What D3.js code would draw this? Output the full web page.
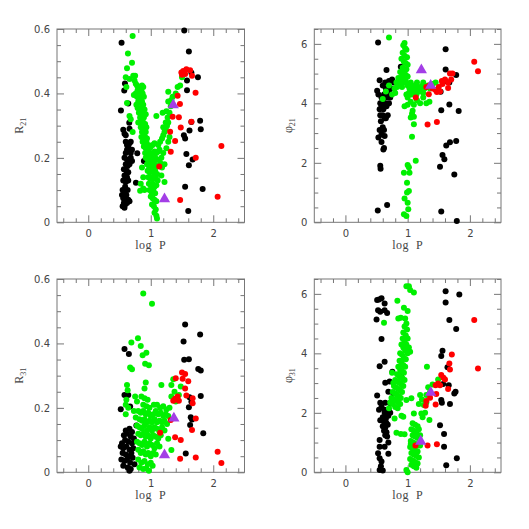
<!DOCTYPE html>
<html>
<head>
<meta charset="utf-8">
<script src="https://cdn.jsdelivr.net/npm/d3@7"></script>
<style>
  body { margin: 0; background: #fff; }
</style>
</head>
<body>
<div id="chart"></div>
<script>
// tick labels
var xTicks = [0, 1, 2];
var rTicks = [0, 0.2, 0.4, 0.6];
var phiTicks = [0, 2, 4, 6];

// the two triangle stars [logP, value]
var r21Tri = [[1.36, 0.364], [1.22, 0.072]];
var phi21Tri = [[1.22, 5.12], [1.37, 4.6]];
var r31Tri = [[1.37, 0.168], [1.22, 0.054]];
var phi31Tri = [[1.37, 2.68], [1.21, 1.04]];

// R21 panel
var r21Black = [[0.533,0.557],[0.587,0.431],[0.576,0.409],[0.64,0.369],[0.523,0.347],[0.656,0.309],[0.56,0.287],[0.58,0.275],[0.60,0.27],[0.66,0.29],
  [0.6,0.25],[0.62,0.24],[0.64,0.235],[0.66,0.245],[0.68,0.25],[0.62,0.225],[0.66,0.225],[0.6,0.215],[0.68,0.215],[0.7,0.225],
  [0.784,0.214],[0.89,0.19],
  [0.58,0.2],[0.62,0.195],[0.65,0.19],[0.68,0.2],[0.6,0.18],[0.63,0.175],[0.66,0.18],[0.7,0.19],[0.57,0.165],[0.61,0.16],[0.64,0.155],[0.58,0.145],[0.62,0.14],[0.56,0.13],[0.6,0.125],[0.64,0.13],[0.763,0.123],[0.59,0.11],[0.55,0.1],[0.63,0.1],[0.58,0.09],[0.61,0.085],[0.54,0.085],[0.56,0.075],[0.6,0.07],[0.64,0.07],[0.57,0.06],[0.62,0.06],[0.55,0.05],[0.59,0.055],[0.66,0.065],[0.58,0.045],
  [1.536,0.595],[1.61,0.53],[1.65,0.464],[1.755,0.45],[1.58,0.44],[1.58,0.41],[1.79,0.315],[1.65,0.311],[1.8,0.289],[1.53,0.27],[1.55,0.26],[1.57,0.212],[1.67,0.195],[1.61,0.177],[1.55,0.11],[1.83,0.103],[1.6,0.035],[1.62,0.285]];
var r21Green = [[0.71,0.578],[0.635,0.524],[0.70,0.495],[0.62,0.478],[0.6,0.45],[0.66,0.445],[0.61,0.42],[0.72,0.455],[0.75,0.455],[0.74,0.44],[0.76,0.43],
  [0.78,0.425],[0.80,0.42],[0.83,0.42],[0.86,0.425],[0.88,0.42],[0.79,0.41],[0.82,0.405],[0.85,0.41],[0.87,0.40],[0.76,0.40],[0.73,0.395],[0.78,0.39],[0.81,0.385],[0.84,0.39],[0.89,0.39],[0.80,0.375],[0.83,0.37],[0.86,0.375],[0.88,0.365],[0.77,0.365],[0.79,0.355],[0.82,0.35],[0.85,0.355],[0.90,0.35],[0.81,0.34],[0.84,0.335],[0.87,0.34],[0.92,0.335],[0.83,0.325],[0.86,0.32],[0.89,0.325],[0.80,0.31],[0.85,0.305],[0.88,0.31],[0.91,0.305],[0.84,0.295],[0.87,0.29],[0.90,0.29],[0.93,0.295],[0.86,0.28],[0.89,0.275],[0.92,0.28],[0.85,0.265],[0.88,0.26],[0.91,0.265],[0.94,0.26],[0.87,0.25],[0.90,0.245],[0.93,0.25],[0.96,0.24],[0.89,0.235],[0.92,0.23],[0.95,0.225],[0.98,0.23],[1.0,0.235],[1.03,0.24],[1.06,0.245],[0.91,0.215],[0.94,0.21],[0.97,0.215],[1.0,0.21],[1.03,0.215],[1.06,0.22],[1.09,0.215],[1.12,0.22],
  [0.62,0.37],[0.66,0.33],[0.68,0.32],[0.71,0.28],
  [0.92,0.20],[0.95,0.195],[0.98,0.19],[1.01,0.195],[1.04,0.19],[1.07,0.2],[1.1,0.195],[0.94,0.18],[0.97,0.175],[1.0,0.178],[1.03,0.172],[1.06,0.18],[1.09,0.175],[0.95,0.16],[0.98,0.155],[1.01,0.16],[1.04,0.155],[1.07,0.16],[1.1,0.15],[0.96,0.14],[0.99,0.135],[1.02,0.14],[1.05,0.135],[1.08,0.14],[1.11,0.13],[0.97,0.12],[1.0,0.115],[1.03,0.12],[1.06,0.11],[1.09,0.115],[0.98,0.10],[1.01,0.095],[1.04,0.1],[1.07,0.09],[1.0,0.08],[1.03,0.075],[1.06,0.07],[1.09,0.065],[1.02,0.055],[1.05,0.05],[1.08,0.04],[1.06,0.03],[1.09,0.02],[1.1,0.012],
  [0.83,0.098],[0.88,0.105],[0.84,0.12],[0.88,0.14],[0.86,0.17],[0.9,0.1],
  [1.12,0.24],[1.15,0.25],[1.18,0.26],[1.2,0.27],[1.22,0.28],[1.24,0.29],[1.26,0.3],[1.28,0.31],[1.2,0.295],[1.24,0.31],[1.27,0.325],[1.19,0.34],[1.09,0.33],[1.25,0.345],[1.3,0.34],[1.32,0.36],[1.28,0.375],[1.33,0.38],[1.28,0.405],[1.35,0.39],[1.4,0.4],[1.43,0.42],[1.47,0.425],[1.5,0.45],[1.14,0.225],[1.17,0.2],[1.2,0.215],[1.15,0.185],[1.18,0.17],[1.22,0.18],[1.25,0.23],[1.28,0.25],[1.3,0.265],[1.22,0.125],[1.17,0.145]];
var r21Red = [[1.49,0.465],[1.52,0.47],[1.57,0.475],[1.63,0.472],[1.66,0.455],[1.5,0.458],[1.55,0.46],
  [1.717,0.402],[1.43,0.393],[1.467,0.367],[1.35,0.328],[1.45,0.326],[1.65,0.312],[1.48,0.294],[1.31,0.281],[1.39,0.252],[1.32,0.219],[1.72,0.2],[1.136,0.173],[1.47,0.069],[2.07,0.079],[2.13,0.237]];

// phi21 panel
var phi21Black = [[0.525,6.05],[0.66,5.12],[0.89,5.23],[0.51,4.42],[0.55,4.78],
  [0.53,4.3],[0.56,4.0],[0.6,4.6],[0.65,4.5],[0.62,4.3],[0.67,4.2],[0.7,4.4],[0.74,4.5],[0.78,4.7],[0.58,3.9],[0.55,3.8],[0.6,3.6],[0.63,3.5],[0.57,3.4],[0.6,3.2],[0.55,3.1],[0.58,2.95],[0.53,2.85],[0.63,2.9],[0.62,3.1],[0.65,3.5],[0.68,3.6],[0.66,3.9],[0.7,4.0],[0.72,4.2],[0.64,4.7],[0.7,4.75],[0.75,4.8],[0.58,2.7],[0.61,2.45],[0.62,2.5],[0.56,1.9],[0.565,1.8],[0.52,0.4],[0.67,0.58],
  [0.6,4.1],[0.64,4.0],[0.68,4.3],[0.58,4.2],[0.56,3.6],[0.61,3.8],
  [1.61,5.82],[1.61,5.14],[1.53,4.39],[1.67,3.96],[1.54,3.77],[1.78,4.95],[1.82,3.74],[1.62,2.58],[1.68,2.69],[1.78,2.73],[1.56,2.26],[1.59,2.12],[1.52,1.87],[1.75,1.61],[1.54,0.36],[1.79,0.04],[1.6,4.75],[1.67,4.7]];
var phi21Green = [[0.70,6.21],[0.95,6.03],[0.93,5.95],[0.96,5.85],[0.98,5.8],[0.92,5.7],[0.95,5.6],[0.99,5.55],[0.9,5.5],[0.94,5.4],[0.97,5.35],[1.0,5.3],[0.92,5.2],[0.95,5.1],[0.98,5.15],[0.88,5.05],[0.91,4.95],[0.94,4.9],[0.97,4.95],[1.0,4.9],[0.85,4.85],[0.88,4.8],[0.91,4.75],[0.94,4.7],[0.97,4.75],[0.82,4.7],[0.85,4.65],[0.88,4.6],[0.91,4.55],[0.79,4.5],[0.83,4.55],
  [1.0,4.6],[1.03,4.5],[1.06,4.55],[1.09,4.45],[1.12,4.6],[1.15,4.5],[1.18,4.55],[1.21,4.45],[1.24,4.6],[1.27,4.5],[1.3,4.55],[1.33,4.6],[1.36,4.5],[1.4,4.65],[1.45,4.7],[1.02,4.35],[1.06,4.3],[1.1,4.35],[1.14,4.3],[1.18,4.4],[1.25,4.35],[1.05,4.7],[1.15,4.7],[1.25,4.7],
  [0.98,4.3],[1.0,4.2],[1.05,4.05],[1.1,3.95],[1.0,3.95],[0.95,3.9],[1.08,3.75],[1.07,3.65],[1.05,3.52],[1.1,3.55],[1.1,3.3],[1.07,2.88],[1.15,4.1],[1.2,4.0],[1.3,4.0],[1.35,4.05],[1.25,4.2],
  [0.6,4.15],[0.65,4.4],[0.75,4.3],[0.8,4.35],[0.7,4.6],
  [1.0,1.93],[1.02,1.85],[1.13,2.07],[0.94,1.67],[1.03,1.67],[0.99,1.33],[0.99,1.0],[1.02,1.05],[0.95,0.8],[1.0,0.66],[1.01,0.44],[0.94,0.27],[0.98,0.21]];
var phi21Red = [[2.07,5.4],[2.13,5.08],[1.3,4.55],[1.35,4.6],[1.4,4.5],[1.45,4.45],[1.5,4.55],[1.55,4.75],[1.6,4.8],[1.65,4.7],[1.7,4.8],[1.72,5.0],[1.68,5.0],[1.52,4.4],[1.47,4.38],[1.56,4.65],[1.65,4.52],
  [1.13,4.2],[1.34,4.31],[1.32,3.29],[1.47,3.37]];

// R31 panel
var r31Black = [[0.58,0.383],[0.65,0.367],[0.58,0.24],[0.64,0.24],[0.52,0.196],[0.67,0.204],[0.77,0.145],
  [0.6,0.13],[0.66,0.135],[0.7,0.125],[0.57,0.115],[0.62,0.12],[0.68,0.11],[0.73,0.105],[0.54,0.09],[0.59,0.1],[0.64,0.095],[0.7,0.09],[0.52,0.08],[0.56,0.075],[0.61,0.08],[0.66,0.07],[0.72,0.075],[0.55,0.06],[0.6,0.055],[0.64,0.05],[0.69,0.06],[0.53,0.04],[0.58,0.035],[0.62,0.04],[0.67,0.03],[0.74,0.025],[0.56,0.02],[0.63,0.015],[0.68,0.01],[0.66,0.005],[0.71,0.045],
  [1.55,0.459],[1.525,0.406],[1.535,0.349],[1.61,0.351],[1.76,0.321],[1.8,0.316],[1.79,0.428],[1.62,0.233],[1.8,0.237],[1.61,0.202],[1.65,0.219],[1.64,0.171],[1.66,0.164],[1.63,0.147],[1.84,0.121],[1.56,0.058]];
var r31Green = [[0.88,0.555],[1.02,0.523],[0.795,0.416],[0.69,0.403],[0.84,0.392],[0.93,0.371],[0.87,0.363],[0.91,0.337],[0.97,0.332],[0.67,0.325],[0.70,0.32],[0.62,0.271],[0.63,0.255],[0.92,0.279],[0.90,0.26],[1.17,0.271],[1.33,0.271],[1.36,0.289],[1.48,0.266],[1.33,0.235],[1.38,0.25],[1.40,0.22],[1.45,0.24],[0.6,0.21],[0.61,0.225],[0.64,0.2],[0.6,0.18],[0.75,0.235],[0.78,0.22],[0.73,0.19],[0.76,0.17],
  [0.85,0.235],[0.9,0.23],[0.95,0.225],[1.05,0.21],[1.1,0.21],[1.15,0.2],[1.2,0.205],[0.88,0.21],[0.93,0.205],[0.98,0.2],[1.25,0.195],[1.3,0.2],
  [0.8,0.19],[0.84,0.185],[0.88,0.19],[0.92,0.18],[0.96,0.185],[1.0,0.175],[1.04,0.18],[1.08,0.19],[1.12,0.18],[1.16,0.185],[1.2,0.175],[1.24,0.18],[1.28,0.175],[0.82,0.165],[0.86,0.16],[0.9,0.165],[0.94,0.155],[0.98,0.16],[1.02,0.155],[1.06,0.165],[1.1,0.155],[1.14,0.16],[1.18,0.155],[1.22,0.16],[1.26,0.15],
  [0.78,0.145],[0.82,0.14],[0.86,0.135],[0.9,0.145],[0.94,0.13],[0.98,0.14],[1.02,0.13],[1.06,0.14],[1.1,0.135],[1.14,0.125],[1.18,0.14],[1.22,0.13],[0.8,0.12],[0.84,0.115],[0.88,0.12],[0.92,0.11],[0.96,0.115],[1.0,0.105],[1.04,0.115],[1.08,0.11],[1.12,0.105],[1.16,0.115],[1.28,0.104],
  [0.78,0.095],[0.82,0.09],[0.86,0.085],[0.9,0.095],[0.94,0.08],[0.98,0.09],[1.02,0.085],[1.06,0.075],[1.1,0.09],[1.14,0.08],[0.8,0.07],[0.84,0.06],[0.88,0.065],[0.92,0.055],[0.96,0.06],[1.0,0.05],[1.04,0.06],[1.08,0.055],[1.33,0.069],
  [0.8,0.04],[0.85,0.03],[0.9,0.035],[0.95,0.025],[1.0,0.03],[0.82,0.015],[0.88,0.01],[0.93,0.012],[0.97,0.005],[1.03,0.02]];
var r31Red = [[1.5,0.31],[1.55,0.305],[1.4,0.292],[1.51,0.29],[1.6,0.283],[1.55,0.26],[1.57,0.238],[1.43,0.235],[1.39,0.228],[1.45,0.222],[1.36,0.222],[1.67,0.23],[1.67,0.214],[1.72,0.167],[1.66,0.131],[1.15,0.123],[1.39,0.109],[1.48,0.1],[1.47,0.042],[1.72,0.046],[2.07,0.064],[2.13,0.029],[1.32,0.162]];

// phi31 panel
var phi31Black = [[0.51,5.79],[0.54,5.81],[0.58,5.85],[0.63,5.68],[0.525,5.45],[0.56,5.4],[0.63,5.45],[0.67,5.36],[0.5,5.14],[0.58,4.48],[0.63,3.72],[0.55,3.57],[0.755,3.38],[0.89,3.26],[0.64,3.01],[0.71,3.05],[0.69,2.71],[0.77,2.65],[0.51,2.58],[0.56,2.34],[0.64,2.34],[0.72,2.32],[0.54,2.1],[0.63,2.1],
  [0.58,2.2],[0.63,2.0],[0.67,1.95],[0.7,2.05],[0.6,1.85],[0.65,1.8],[0.69,1.9],[0.62,1.7],[0.66,1.65],[0.6,1.55],[0.64,1.5],[0.68,1.6],[0.62,1.4],[0.66,1.35],[0.64,1.25],[0.67,1.2],[0.56,1.75],[0.72,2.0],
  [0.55,1.09],[0.55,0.86],[0.63,0.86],[0.69,1.0],[0.69,0.62],[0.525,0.64],[0.55,0.47],[0.58,0.36],[0.55,0.08],[0.6,0.06],[0.57,0.2],
  [1.61,6.09],[1.83,5.98],[1.61,5.71],[1.67,5.12],[1.78,4.82],[1.56,4.09],[1.54,3.91],[1.64,3.53],[1.66,2.93],[1.57,2.97],[1.77,2.71],[1.75,2.65],[1.54,2.43],[1.55,2.34],[1.68,2.3],[1.52,1.58],[1.585,1.29],[1.585,0.86],[1.62,0.24],[1.79,0.47]];
var phi31Green = [[1.02,6.26],[0.98,6.26],[1.04,6.13],[1.1,6.05],[0.835,5.77],[0.94,5.53],[1.0,5.42],[0.85,5.17],[0.89,5.2],[0.62,5.03],[0.96,5.17],[0.98,5.0],
  [0.95,4.9],[0.99,4.8],[0.93,4.7],[0.97,4.6],[1.0,4.5],[0.92,4.5],[0.95,4.4],[0.98,4.3],[1.02,4.2],[0.9,4.3],[0.93,4.2],[0.96,4.1],[1.0,4.0],[1.04,4.05],[0.88,4.0],[0.91,3.95],[0.94,3.85],[0.97,3.8],[0.87,3.75],[0.9,3.7],[0.93,3.6],[0.96,3.55],[0.85,3.55],[0.88,3.45],[0.91,3.4],[0.94,3.35],[0.83,3.3],[0.86,3.25],[0.89,3.2],[0.92,3.15],[0.95,3.1],[0.8,3.1],[0.84,3.05],[0.87,3.0],[0.9,2.95],[0.93,2.9],[0.78,2.9],[0.81,2.85],[0.85,2.8],[0.88,2.75],[0.91,2.7],[0.76,2.7],[0.8,2.65],[0.83,2.6],[0.86,2.55],[0.89,2.5],[0.74,2.5],[0.78,2.45],[0.82,2.4],[0.85,2.35],[0.88,2.3],[0.72,2.35],[0.76,2.3],[0.8,2.2],[0.84,2.15],[0.7,2.15],[0.98,2.43],[1.06,2.49],[0.79,1.81],[0.9,1.9],[0.93,1.87],[0.82,1.33],[0.89,1.29],[0.95,1.28],[0.75,3.35],[0.77,3.0],
  [1.31,3.55],[1.33,2.86],[1.49,3.12],[1.3,2.6],[1.2,2.6],[1.26,2.26],[1.22,1.98],[1.1,1.98],[1.35,1.76],[1.24,1.85],[1.28,2.0],[1.3,2.35],[1.36,2.7],[1.4,2.95],[1.18,2.3],[1.23,2.45],
  [1.08,1.65],[1.12,1.6],[1.16,1.55],[1.06,1.45],[1.1,1.4],[1.14,1.35],[1.18,1.45],[1.08,1.25],[1.12,1.2],[1.16,1.15],[1.2,1.25],[1.05,1.05],[1.09,1.0],[1.13,0.95],[1.17,0.9],[1.04,0.85],[1.08,0.8],[1.12,0.75],[1.16,0.7],[1.06,0.65],[1.1,0.6],[1.14,0.55],[1.18,0.5],[1.04,0.45],[1.08,0.4],[1.12,0.35],[1.16,0.3],[1.06,0.25],[1.1,0.2],[1.14,0.15],[0.98,0.08],[1.0,0.0],[1.2,0.9],[1.05,0.95]];
var phi31Red = [[2.07,5.12],[2.13,3.49],[1.71,3.96],[1.67,3.66],[1.68,3.46],[1.54,3.27],[1.575,3.18],[1.6,3.12],[1.49,2.99],[1.45,2.93],[1.52,2.93],[1.65,2.8],[1.46,2.63],[1.3,2.4],[1.36,2.51],[1.29,2.24],[1.45,2.28],[1.125,0.9],[1.32,0.9],[1.47,0.94]];

var width = 529, height = 529;

var svg = d3.select("#chart")
  .append("svg")
  .attr("width", width)
  .attr("height", height);

var panels = [
  { left: 57, right: 244.5, top: 29, bottom: 222.3, yMax: 0.6, ticks: rTicks, minor: 0.05, fmt: d3.format("~g"),
    sym: "R", sub: "21", black: r21Black, green: r21Green, red: r21Red, tri: r21Tri },
  { left: 314.3, right: 501, top: 29, bottom: 222.3, yMax: 6.5, ticks: phiTicks, minor: 0.5, fmt: d3.format("d"),
    sym: "\u03c6", sub: "21", black: phi21Black, green: phi21Green, red: phi21Red, tri: phi21Tri },
  { left: 57, right: 244.5, top: 279, bottom: 472.3, yMax: 0.6, ticks: rTicks, minor: 0.05, fmt: d3.format("~g"),
    sym: "R", sub: "31", black: r31Black, green: r31Green, red: r31Red, tri: r31Tri },
  { left: 314.3, right: 501, top: 279, bottom: 472.3, yMax: 6.5, ticks: phiTicks, minor: 0.5, fmt: d3.format("d"),
    sym: "\u03c6", sub: "31", black: phi31Black, green: phi31Green, red: phi31Red, tri: phi31Tri }
];

var axisColor = "#777";
var textColor = "#444";

panels.forEach(drawPanel);

function drawPanel(p) {
  var g = svg.append("g");
  var x = d3.scaleLinear().domain([-0.5, 2.5]).range([p.left, p.right]);
  var y = d3.scaleLinear().domain([0, p.yMax]).range([p.bottom, p.top]);

  var xMinor = d3.range(-0.4, 2.45, 0.2).filter(function(v) { return Math.abs(v - Math.round(v)) > 0.01; });
  var yMinor = d3.range(0, p.yMax + 0.001, p.minor).filter(function(v) {
    return !p.ticks.some(function(t) { return Math.abs(t - v) < 1e-6; });
  });

  //frame
  g.append("rect")
    .attr("x", p.left).attr("y", p.top)
    .attr("width", p.right - p.left).attr("height", p.bottom - p.top)
    .attr("fill", "none").attr("stroke", axisColor).attr("stroke-width", 1);

  // ticks on all four sides, pointing inward
  function addAxis(axis, tx, ty, labels) {
    var a = g.append("g").attr("transform", "translate(" + tx + "," + ty + ")").call(axis);
    a.select(".domain").remove();
    a.selectAll(".tick line").attr("stroke", axisColor);
    a.selectAll("text")
      .attr("fill", textColor)
      .style("font-family", "DejaVu Sans, sans-serif")
      .style("font-size", "10px");
    if (!labels) a.selectAll("text").remove();
  }

  addAxis(d3.axisBottom(x).tickValues(xTicks).tickSize(-7).tickPadding(8).tickFormat(d3.format("d")), 0, p.bottom, true);
  addAxis(d3.axisBottom(x).tickValues(xMinor).tickSize(-4), 0, p.bottom, false);
  addAxis(d3.axisTop(x).tickValues(xTicks).tickSize(-7), 0, p.top, false);
  addAxis(d3.axisTop(x).tickValues(xMinor).tickSize(-4), 0, p.top, false);
  addAxis(d3.axisLeft(y).tickValues(p.ticks).tickSize(-7).tickPadding(7).tickFormat(p.fmt), p.left, 0, true);
  addAxis(d3.axisLeft(y).tickValues(yMinor).tickSize(-4), p.left, 0, false);
  addAxis(d3.axisRight(y).tickValues(p.ticks).tickSize(-7), p.right, 0, false);
  addAxis(d3.axisRight(y).tickValues(yMinor).tickSize(-4), p.right, 0, false);

  //points
  function dots(data, color) {
    g.selectAll(null)
      .data(data)
      .enter().append("circle")
      .attr("cx", function(d) { return x(d[0]); })
      .attr("cy", function(d) { return y(d[1]); })
      .attr("r", 3)
      .attr("fill", color);
  }
  dots(p.black, "#000");
  dots(p.green, "#00f000");
  dots(p.red, "#ff0000");

  g.selectAll(null)
    .data(p.tri)
    .enter().append("path")
    .attr("d", d3.symbol().type(d3.symbolTriangle).size(55))
    .attr("transform", function(d) { return "translate(" + x(d[0]) + "," + y(d[1]) + ")"; })
    .attr("fill", "#a33ee6");

  // axis titles
  g.append("text")
    .attr("x", (p.left + p.right) / 2)
    .attr("y", p.bottom + 27)
    .attr("text-anchor", "middle")
    .attr("fill", textColor)
    .style("font-family", "Liberation Serif, serif")
    .style("font-size", "12px")
    .style("letter-spacing", "0.5px")
    .text("log\u00a0 P");

  var lx = p.left - (p.yMax < 1 ? 34 : 22);
  var ly = (p.top + p.bottom) / 2;
  var t = g.append("text")
    .attr("transform", "translate(" + lx + "," + ly + ") rotate(-90)")
    .attr("text-anchor", "middle")
    .attr("fill", textColor)
    .style("font-family", "Liberation Serif, serif")
    .style("font-size", "12px");
  t.append("tspan").text(p.sym);
  t.append("tspan").attr("dy", 3).style("font-size", "8px").text(p.sub);
}
</script>
</body>
</html>
